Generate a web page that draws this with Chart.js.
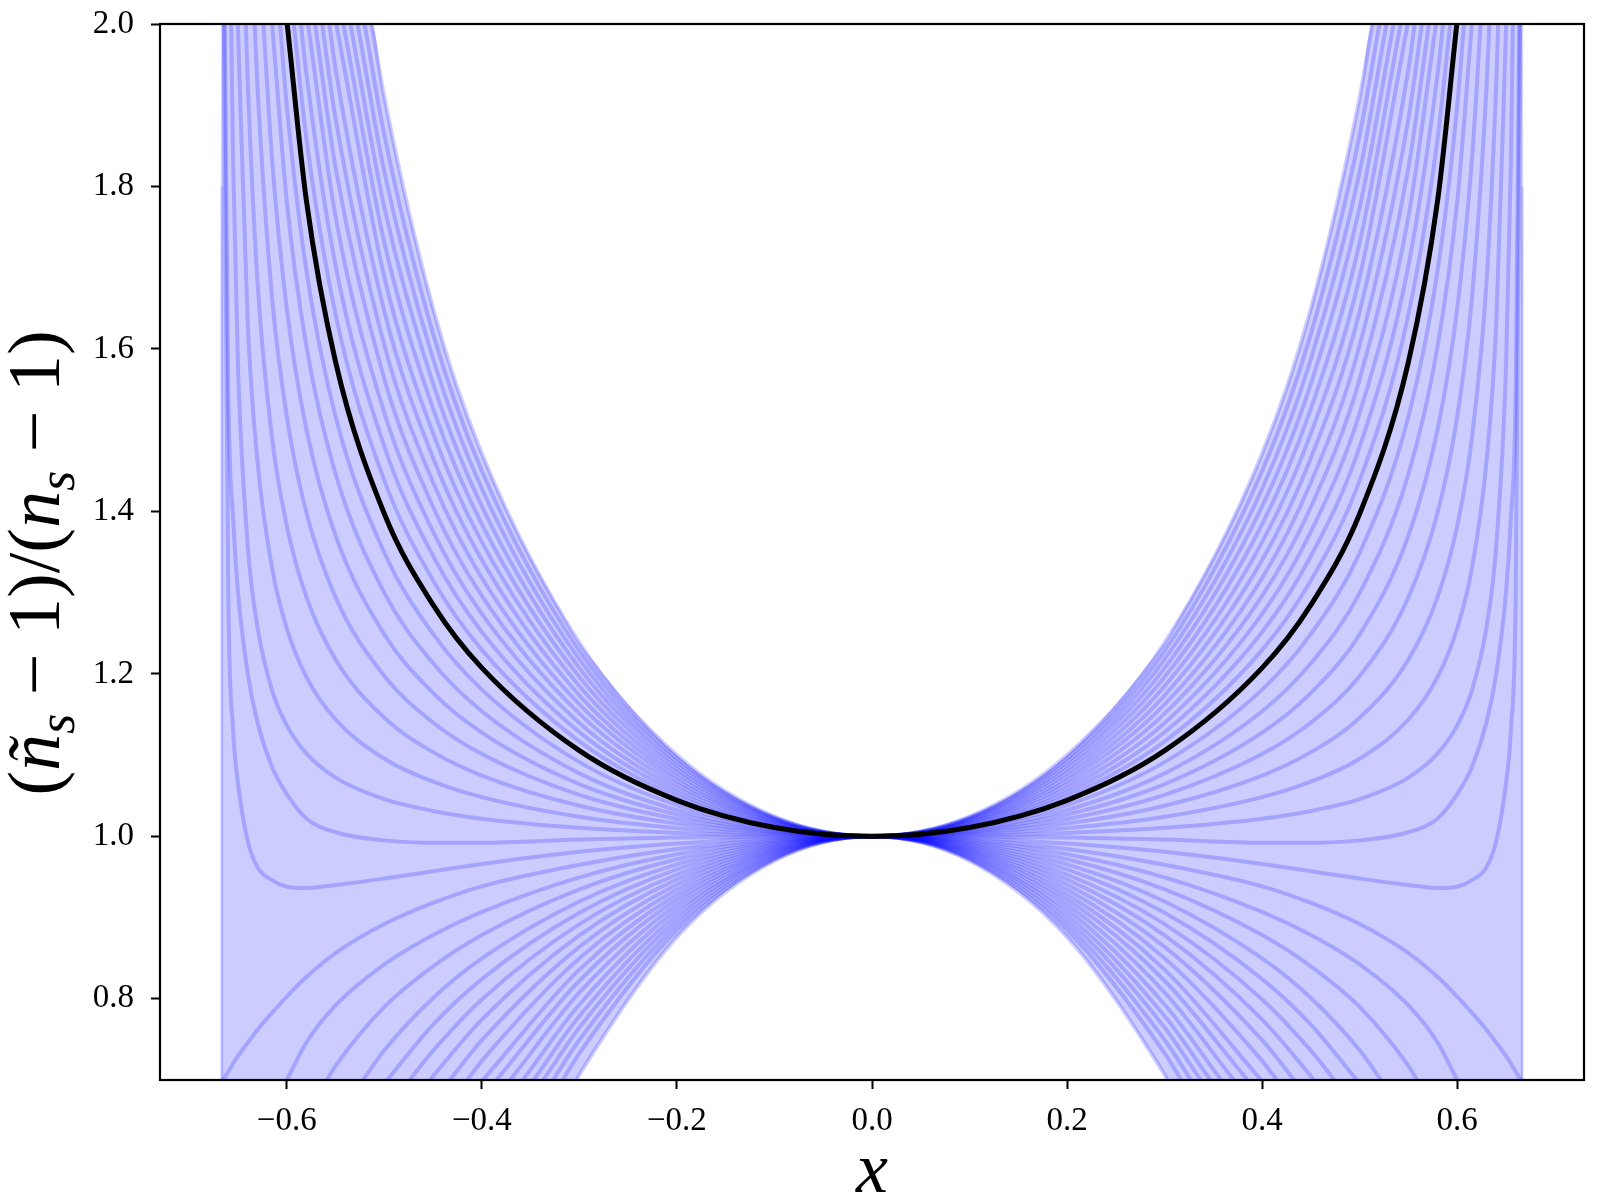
<!DOCTYPE html>
<html><head><meta charset="utf-8">
<script src="https://cdn.jsdelivr.net/npm/chart.js@4.4.0/dist/chart.umd.min.js"></script>
<style>html,body{margin:0;padding:0;background:#fff;}</style>
</head><body>
<canvas id="c" width="1600" height="1200"></canvas>
<script>
// ---- axis data ----
const X_TICKS = [-0.6, -0.4, -0.2, 0.0, 0.2, 0.4, 0.6];
const Y_TICKS = [0.8, 1.0, 1.2, 1.4, 1.6, 1.8, 2.0];
const X_MIN = -0.73, X_MAX = 0.73;
const Y_MIN = 0.7, Y_MAX = 2.0;

// ---- curves (right half, mirrored to the left; the picture is symmetric) ----
const GRID_X = [0, 0.1, 0.2, 0.3, 0.4, 0.45, 0.5, 0.55, 0.58, 0.6, 0.615, 0.63, 0.64, 0.65, 0.655, 0.66];

const BLUE_Y = [
  // rising family (steepest first)
  [1, 1.0243, 1.1000, 1.2383, 1.4712, 1.6498, 1.9100],
  [1, 1.0233, 1.0959, 1.2282, 1.4497, 1.6185, 1.8633],
  [1, 1.0223, 1.0917, 1.2178, 1.4279, 1.5876, 1.8181],
  [1, 1.0212, 1.0872, 1.2070, 1.4061, 1.5569, 1.7741],
  [1, 1.0201, 1.0826, 1.1960, 1.3842, 1.5264, 1.7310],
  [1, 1.0190, 1.0780, 1.1849, 1.3621, 1.4960, 1.6885],
  [1, 1.0178, 1.0732, 1.1736, 1.3401, 1.4658, 1.6463, 1.9447],
  [1, 1.0167, 1.0685, 1.1623, 1.3180, 1.4355, 1.6045, 1.8837],
  [1, 1.0155, 1.0637, 1.1510, 1.2959, 1.4054, 1.5628, 1.8231],
  [1, 1.0143, 1.0589, 1.1396, 1.2738, 1.3752, 1.5212, 1.7629],
  [1, 1.0131, 1.0540, 1.1283, 1.2516, 1.3451, 1.4797, 1.7027, 1.9396],
  [1, 1.0119, 1.0492, 1.1169, 1.2295, 1.3149, 1.4381, 1.6425, 1.8598],
  [1, 1.0093, 1.0383, 1.0913, 1.1806, 1.2491, 1.3490, 1.5169, 1.6971, 1.8991],
  [1, 1.0079, 1.0324, 1.0775, 1.1540, 1.2130, 1.2996, 1.4461, 1.6040, 1.7815],
  [1, 1.0065, 1.0268, 1.0642, 1.1276, 1.1766, 1.2485, 1.3703, 1.5017, 1.6495, 1.8315],
  [1, 1.0052, 1.0213, 1.0509, 1.1012, 1.1401, 1.1973, 1.2942, 1.3988, 1.5165, 1.6614, 1.9209],
  [1, 1.0038, 1.0157, 1.0376, 1.0748, 1.1036, 1.1459, 1.2176, 1.2950, 1.3821, 1.4894, 1.6814, 1.9272],
  [1, 1.0024, 1.0100, 1.0241, 1.0483, 1.0673, 1.0955, 1.1438, 1.1964, 1.2559, 1.3294, 1.4612, 1.6302],
  [1, 1.0010, 1.0042, 1.0104, 1.0217, 1.0312, 1.0458, 1.0723, 1.1021, 1.1365, 1.1794, 1.2571, 1.3570, 1.5766, 1.8272],
  // nearly flat, and the one with a dip
  [1, 0.9996, 0.9985, 0.9960, 0.9920, 0.9920, 0.9950, 1.0050, 1.0220, 1.0520, 1.0850, 1.1400, 1.2000, 1.3000, 1.3900, 1.5500],
  [1, 0.9980, 0.9910, 0.9810, 0.9660, 0.9570, 0.9480, 0.9400, 0.9365, 0.9380, 0.9460, 0.9620, 0.9940, 1.0650, 1.1300, 1.3000],
  // falling family
  [1, 0.9961, 0.9845, 0.9650, 0.9384, 0.9180, 0.8920, 0.8563, 0.8268, 0.8027, 0.7829, 0.7619, 0.7460, 0.7296, 0.7203, 0.7103],
  [1, 0.9945, 0.9780, 0.9495, 0.9069, 0.8784, 0.8423, 0.7918, 0.7460],
  [1, 0.9930, 0.9717, 0.9347, 0.8785, 0.8400, 0.7900, 0.7175],
  [1, 0.9915, 0.9654, 0.9198, 0.8497, 0.8010, 0.7366],
  [1, 0.9899, 0.9592, 0.9058, 0.8242, 0.7682],
  [1, 0.9884, 0.9530, 0.8919, 0.7992, 0.7361],
  [1, 0.9869, 0.9469, 0.8780, 0.7744, 0.7047],
  [1, 0.9853, 0.9407, 0.8639, 0.7490],
  [1, 0.9838, 0.9345, 0.8499, 0.7235],
  [1, 0.9823, 0.9283, 0.8359],
  [1, 0.9807, 0.9222, 0.8222],
  [1, 0.9792, 0.9160, 0.8078],
  [1, 0.9776, 0.9097, 0.7930],
  [1, 0.9761, 0.9035, 0.7788],
  [1, 0.9746, 0.8973, 0.7647],
  [1, 0.9730, 0.8909, 0.7495],
  [1, 0.9714, 0.8843, 0.7330],
  [1, 0.9698, 0.8759, 0.7065]
];
// where each curve leaves the frame (top 2.0, bottom 0.7, or the domain edge)
const BLUE_EXIT_X = [
  0.513, 0.5203, 0.5275, 0.5348, 0.542, 0.5493, 0.5565, 0.5638, 0.571, 0.5783, 0.5855, 0.5928,
  0.607, 0.615, 0.624, 0.633, 0.642, 0.6502, 0.657,
  0.6635, 0.6645,
  0.666, 0.600, 0.559, 0.522, 0.497, 0.474, 0.453, 0.433, 0.415, 0.399, 0.385, 0.371, 0.358, 0.347, 0.337, 0.327, 0.317, 0.303
];
const BLUE_EXIT_Y = [
  2, 2, 2, 2, 2, 2, 2, 2, 2, 2, 2, 2,
  2, 2, 2, 2, 2, 2, 2,
  2, 2,
  0.699, 0.7, 0.7, 0.7, 0.7, 0.7, 0.7, 0.7, 0.7, 0.7, 0.7, 0.7, 0.7, 0.7, 0.7, 0.7, 0.7, 0.7
];

const BLACK_Y = [1, 1.0108, 1.0443, 1.1054, 1.2073, 1.2849, 1.3971, 1.5841, 1.7834];
const BLACK_EXIT = [0.5996, 2.0];

// shaded band between the outermost curves, ending at the domain edge
const FILL_X      = [0, 0.1, 0.2, 0.3, 0.303, 0.4, 0.45, 0.5, 0.513, 0.6667];
const FILL_TOP    = [1, 1.0243, 1.1000, 1.2383, 1.2437, 1.4712, 1.6498, 1.9100, 2.0, 2.0];
const FILL_BOTTOM = [1, 0.9698, 0.8759, 0.7065, 0.7, 0.7, 0.7, 0.7, 0.7, 0.7];
const EDGE_X = 0.6667;
const EDGE_DARK_TOP = 1.8;

// ---- build points ----
function mirror(right) {
  const left = right.slice(1).map(p => ({x: -p.x, y: p.y})).reverse();
  return left.concat(right);
}
function curvePoints(ys, ex, ey) {
  const r = [];
  for (let i = 0; i < GRID_X.length && i < ys.length; i++) {
    if (ys[i] == null) break;
    r.push({x: GRID_X[i], y: ys[i]});
  }
  r.push({x: ex, y: ey});
  return mirror(r);
}
function pairPoints(xs, ys) { return mirror(xs.map((x, i) => ({x: x, y: ys[i]}))); }

const BLUE = 'rgba(0,0,255,0.2)';
const datasets = [];
datasets.push({
  data: curvePoints(BLACK_Y, BLACK_EXIT[0], BLACK_EXIT[1]),
  borderColor: '#000', borderWidth: 5, order: 0
});
BLUE_Y.forEach((ys, i) => {
  datasets.push({ data: curvePoints(ys, BLUE_EXIT_X[i], BLUE_EXIT_Y[i]),
    borderColor: BLUE, borderWidth: 4, order: 1 });
});
[-EDGE_X, EDGE_X].forEach(ex => {
  datasets.push({ data: [{x: ex, y: Y_MIN}, {x: ex, y: Y_MAX}], borderColor: 'rgba(0,0,255,0.15)',
    borderWidth: 2, order: 2, cubicInterpolationMode: 'default', tension: 0 });
  datasets.push({ data: [{x: ex, y: Y_MIN}, {x: ex, y: EDGE_DARK_TOP}], borderColor: 'rgba(0,0,255,0.12)',
    borderWidth: 3, order: 2, cubicInterpolationMode: 'default', tension: 0 });
});
datasets.push({ data: pairPoints(FILL_X, FILL_TOP), borderWidth: 0, borderColor: 'rgba(0,0,0,0)',
  backgroundColor: 'rgba(0,0,255,0.2)', fill: '+1', order: 3 });
datasets.push({ data: pairPoints(FILL_X, FILL_BOTTOM), borderWidth: 0, borderColor: 'rgba(0,0,0,0)',
  fill: false, order: 4 });

datasets.forEach(d => {
  d.pointRadius = 0; d.pointHoverRadius = 0; d.clip = 0;
  if (!d.cubicInterpolationMode) d.cubicInterpolationMode = 'monotone';
  if (d.fill === undefined) d.fill = false;
});

const fmt = v => (v < 0 ? '\u2212' : '') + Math.abs(v).toFixed(1);
const TICK_FONT = {family: '"Liberation Serif", "DejaVu Serif", serif', size: 33};

const framePlugin = {
  id: 'frame',
  afterDatasetsDraw(chart) {
    const a = chart.chartArea, ctx = chart.ctx;
    ctx.save(); ctx.strokeStyle = '#000'; ctx.lineWidth = 2.2;
    ctx.strokeRect(a.left, a.top, a.right - a.left, a.bottom - a.top);
    ctx.restore();
  }
};
const labelPlugin = {
  id: 'labels',
  afterDraw(chart) {
    const ctx = chart.ctx;
    const fam = '"Liberation Serif", "DejaVu Serif", serif';
    // x label
    ctx.save(); ctx.fillStyle = '#000'; ctx.font = 'italic 72px ' + fam;
    ctx.textAlign = 'center'; ctx.textBaseline = 'alphabetic';
    ctx.fillText('x', 872, 1192); ctx.restore();
    // y label
    const F = 74;
    const roman = F + 'px ' + fam, ital = 'italic ' + F + 'px ' + fam;
    const sub = 'italic ' + Math.round(F * 0.7) + 'px ' + fam;
    const parts = [['(', roman, 0], ['\u00f1', ital, 0], ['s', sub, 0.2 * F], [' \u2212 ', roman, 0], ['1', roman, 0],
      [')/(', roman, 0], ['n', ital, 0], ['s', sub, 0.2 * F], [' \u2212 ', roman, 0], ['1', roman, 0], [')', roman, 0]];
    ctx.save(); ctx.fillStyle = '#000'; ctx.textBaseline = 'alphabetic'; ctx.textAlign = 'left';
    let total = 0;
    const w = parts.map(p => { ctx.font = p[1]; const m = ctx.measureText(p[0]).width; total += m; return m; });
    ctx.translate(39, 563); ctx.rotate(-Math.PI / 2);
    let x = -total / 2;
    parts.forEach((p, i) => { ctx.font = p[1]; ctx.fillText(p[0], x, 0.27 * F + p[2]); x += w[i]; });
    ctx.restore();
  }
};

new Chart(document.getElementById('c'), {
  type: 'line',
  data: { datasets },
  options: {
    responsive: false, animation: false, devicePixelRatio: 1, parsing: false,
    layout: { padding: { left: 0, right: 16, top: 24, bottom: 0 } },
    plugins: { legend: { display: false }, tooltip: { enabled: false } },
    scales: {
      x: {
        type: 'linear', min: X_MIN, max: X_MAX,
        afterBuildTicks: s => { s.ticks = X_TICKS.map(v => ({value: v})); },
        afterFit: s => { s.height = 120; s.paddingLeft = 0; s.paddingRight = 0; },
        ticks: { callback: v => fmt(v), font: TICK_FONT, color: '#000', padding: 13, maxRotation: 0, autoSkip: false },
        grid: { drawOnChartArea: false, drawTicks: true, tickLength: 9, tickWidth: 2, tickColor: '#000' },
        border: { display: true, color: '#000', width: 2 }
      },
      y: {
        type: 'linear', min: Y_MIN, max: Y_MAX,
        afterBuildTicks: s => { s.ticks = Y_TICKS.map(v => ({value: v})); },
        afterFit: s => { s.width = 160; s.paddingTop = 0; s.paddingBottom = 0; },
        ticks: { callback: v => fmt(v), font: TICK_FONT, color: '#000', padding: 17, autoSkip: false },
        grid: { drawOnChartArea: false, drawTicks: true, tickLength: 9, tickWidth: 2, tickColor: '#000' },
        border: { display: true, color: '#000', width: 2 }
      }
    }
  },
  plugins: [framePlugin, labelPlugin]
});
</script>
</body></html>
